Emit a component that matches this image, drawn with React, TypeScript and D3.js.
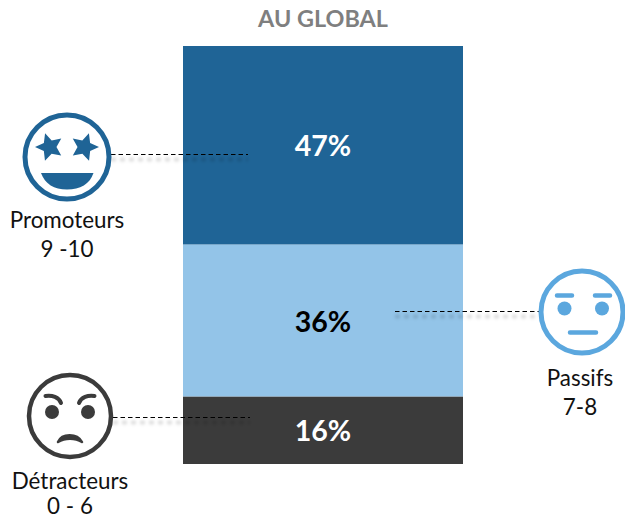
import React from "react";
import * as d3 from "d3";

const segments = ["Détracteurs", "Passifs", "Promoteurs"];
const values = [16, 36, 47];
const valueLabels = ["16%", "36%", "47%"];
const segmentColors = ["#3b3b3b", "#93c4e8", "#1f6496"];
const labelColors = ["#ffffff", "#000000", "#ffffff"];
const title = "AU GLOBAL";

const y = d3.scaleLinear().domain([0, 99]).range([464, 46]);
const stackEnds = d3.cumsum(values);

function star(cx: number, cy: number, r: number, rot: number) {
  const radial = d3.lineRadial<number>()
    .angle((_, i) => (i * Math.PI) / 5 + rot)
    .radius((_, i) => (i % 2 === 0 ? r : r * 0.48))
    .curve(d3.curveLinearClosed);
  return <path transform={`translate(${cx},${cy})`} d={radial(d3.range(10)) as string} fill="#1f6496" />;
}

function Callout({ x1, x2, yy }: { x1: number; x2: number; yy: number }) {
  return (
    <g>
      <line x1={x1} x2={x2} y1={yy + 5} y2={yy + 5} stroke="#000" strokeOpacity={0.13} strokeWidth={4} strokeDasharray="5 4" filter="url(#soft)" />
      <line x1={x1} x2={x2} y1={yy} y2={yy} stroke="#000" strokeWidth={1.1} strokeDasharray="4.5 3" />
    </g>
  );
}

const font = "Lato, 'Noto Sans', sans-serif";

export default function App() {
  return (
    <svg width={625} height={519} viewBox="0 0 625 519" style={{ position: "absolute", left: 0, top: 0, display: "block", fontFamily: font }}>
      <defs>
        <filter id="soft" filterUnits="userSpaceOnUse" x="0" y="0" width="625" height="519">
          <feGaussianBlur stdDeviation="1.8" />
        </filter>
      </defs>
      <text x={323} y={27} textAnchor="middle" fontSize={23.4} fontWeight={700} fill="#7f7f7f">{title}</text>

      {values.map((v, i) => {
        const top = y(stackEnds[i]);
        const bottom = y(stackEnds[i] - v);
        return (
          <g key={segments[i]}>
            <rect x={183} width={280} y={top} height={bottom - top} fill={segmentColors[i]} />
            <text x={323} y={(top + bottom) / 2 + 10.5 + (i === 1 ? 1.5 : 0)} textAnchor="middle" fontSize={28.5} fontWeight={700} fill={labelColors[i]}>{valueLabels[i]}</text>
          </g>
        );
      })}

      <Callout x1={111} x2={248} yy={154.5} />
      <Callout x1={395} x2={540} yy={311.5} />
      <Callout x1={113} x2={250} yy={417.5} />

      {/* Promoteurs */}
      <g>
        <circle cx={67} cy={157} r={42} fill="#fff" stroke="#1f6496" strokeWidth={5} />
        {star(49.5, 147, 14.5, -0.31)}
        {star(84.5, 147, 14.5, 0.31)}
        <path d="M41,173 L93.5,173 C90,184 80,189.500 67,189.500 C54,189.500 45,184 41,173 Z" fill="#1f6496" />
      </g>
      <text textAnchor="middle" fontSize={22.4} fill="#111">
        <tspan x={67} y={228}>Promoteurs</tspan>
        <tspan x={67} y={257}>9 -10</tspan>
      </text>

      {/* Passifs */}
      <g>
        <circle cx={582} cy={312} r={41} fill="#fff" stroke="#5ba7de" strokeWidth={5} />
        <circle cx={564.500} cy={308.500} r={7} fill="#5ba7de" />
        <circle cx={602} cy={308.500} r={7} fill="#5ba7de" />
        <path d="M557,295.500 H572 M595,295.500 H610 M570,332.500 H596" stroke="#5ba7de" strokeWidth={4.500} strokeLinecap="round" fill="none" />
      </g>
      <text textAnchor="middle" fontSize={22.4} fill="#111">
        <tspan x={580} y={386}>Passifs</tspan>
        <tspan x={580} y={415}>7-8</tspan>
      </text>

      {/* Détracteurs */}
      <g>
        <circle cx={70} cy={416} r={41} fill="#fff" stroke="#3b3b3b" strokeWidth={4.500} />
        <circle cx={52} cy={412} r={7} fill="#3b3b3b" />
        <circle cx={88} cy={412} r={7} fill="#3b3b3b" />
        <path d="M45.500,396 C52,395 59,397 61,403 M94.500,396 C88,395 81,397 79,403" stroke="#3b3b3b" strokeWidth={4} strokeLinecap="round" fill="none" />
        <path d="M58,442 C62,433 77,433 82,442 C75,437.500 65,437.500 58,442 Z" fill="#3b3b3b" stroke="#3b3b3b" strokeWidth={2.500} strokeLinejoin="round" />
      </g>
      <text textAnchor="middle" fontSize={22.4} fill="#111">
        <tspan x={70} y={489}>Détracteurs</tspan>
        <tspan x={70} y={514}>0 - 6</tspan>
      </text>
    </svg>
  );
}
